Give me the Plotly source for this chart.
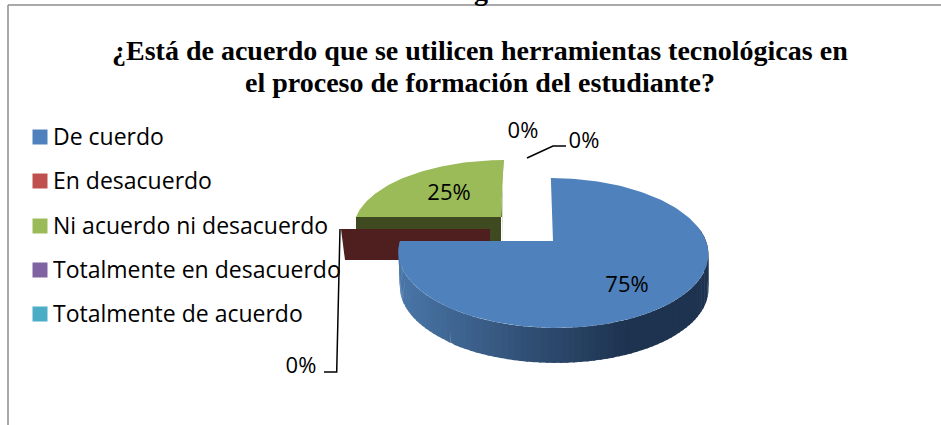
import numpy as np
import plotly.graph_objects as go

categories = ["De cuerdo", "En desacuerdo", "Ni acuerdo ni desacuerdo",
              "Totalmente en desacuerdo", "Totalmente de acuerdo"]
values = [75, 0, 25, 0, 0]
top_colors = ["#4f81bd", "#c0504d", "#9bbb59", "#8064a2", "#4bacc6"]
title_lines = ["¿Está de acuerdo que se utilicen herramientas tecnológicas en",
               "el proceso de formación del estudiante?"]
cut_off_heading = "g"

W, H = 941, 425
total = sum(values)
K = 0.16


def project(theta, rad, cx, cy, rx, ry, lean):
    X = rad * np.sin(theta)
    Y = rad * np.cos(theta)
    s = 1 / (1 + K * Y)
    return cx + rx * X * s + lean * Y * s, cy - ry * Y * s


def poly(xs, ys, color, width=0, lcolor=None):
    return go.Scatter(x=list(xs), y=list(ys), mode="lines", fill="toself",
                      fillcolor=color, hoverinfo="skip", showlegend=False,
                      line=dict(width=width, color=lcolor or color))


def mix(a, b, t):
    ca = [int(a[i:i + 2], 16) for i in (1, 3, 5)]
    cb = [int(b[i:i + 2], 16) for i in (1, 3, 5)]
    return "rgb(%d,%d,%d)" % tuple(round(p + (q - p) * t) for p, q in zip(ca, cb))


# slice angles come from the data
start = np.cumsum([0] + values[:-1]) / total * 2 * np.pi
end = np.cumsum(values) / total * 2 * np.pi
GEOM = {
    0: dict(cx=553, cy=241, rx=153, ry=73, lean=-2.5, depth=35),
    1: dict(cx=490, cy=229, rx=149, ry=60, lean=0, depth=31),
    2: dict(cx=501, cy=217, rx=145, ry=66, lean=3, depth=34),
}

fig = go.Figure()

# green slice (exploded backwards)
for idx, side in ((2, "#3f4a21"),):
    g = GEOM[idx]
    pa = dict(cx=g["cx"], cy=g["cy"], rx=g["rx"], ry=g["ry"], lean=g["lean"])
    th = np.linspace(start[idx], end[idx], 80)
    x, y = project(th, 1, **pa)
    lx, ly = project(start[idx], 1, **pa)
    fig.add_trace(poly([g["cx"], lx, lx, g["cx"]], [g["cy"], ly, ly + g["depth"], g["cy"] + g["depth"]], side))
    rx_, ry_ = project(end[idx], 1, **pa)
    fig.add_trace(poly([g["cx"], rx_, rx_ - 1, g["cx"] + 1, g["cx"] + 1], [g["cy"], ry_, ry_, g["cy"] + g["depth"], g["cy"]], "#5f7230"))
    fig.add_trace(poly(list(x) + [g["cx"], x[0]], list(y) + [g["cy"], y[0]], top_colors[idx]))

# zero-valued red slice: only its cut face is visible
g = GEOM[1]
pa = dict(cx=g["cx"], cy=g["cy"], rx=g["rx"], ry=g["ry"], lean=g["lean"])
lx, ly = project(start[1], 1, **pa)
fig.add_trace(poly([g["cx"], lx, lx + 4, g["cx"], g["cx"]],
                   [g["cy"], ly, ly + g["depth"], g["cy"] + g["depth"], g["cy"]], "#4e1f1e"))

# blue slice: extruded rim as shaded strips, then top face
g = GEOM[0]
pa = dict(cx=g["cx"], cy=g["cy"], rx=g["rx"], ry=g["ry"], lean=g["lean"])
sweep = np.linspace(np.radians(80), end[0], 90)
for i in range(len(sweep) - 1):
    xa, ya = project(sweep[i], 1, **pa)
    xb, yb = project(sweep[i + 1] + 0.012, 1, **pa)
    t2 = (xa - 400) / 308
    col = mix("#4a76a8", "#1e3350", min(1, t2 * 1.35))
    fig.add_trace(poly([xa, xb, xb + 1.5 * (xb < 450), xa + 1.5 * (xa < 450)],
                       [ya, yb, yb + g["depth"], ya + g["depth"]], col))
th = np.linspace(start[0], end[0], 180)
x, y = project(th, 1, **pa)
fig.add_trace(poly(list(x) + [g["cx"], x[0]], list(y) + [g["cy"], y[0]], top_colors[0]))

# leader lines
for lx_, ly_ in (([527, 553, 566], [158, 146, 146]), ([340, 336.7, 324], [229, 372, 372])):
    fig.add_trace(go.Scatter(x=lx_, y=ly_, mode="lines", hoverinfo="skip", showlegend=False,
                             line=dict(color="#000000", width=1.5)))

# data labels
label_x = [627, 301, 449, 523, 584]
label_y = [286, 367, 194, 132, 142]
fig.add_trace(go.Scatter(x=label_x, y=label_y, mode="text", showlegend=False, hoverinfo="skip",
                         text=[f"{v}%" for v in values],
                         textfont=dict(family="Open Sans", size=22, color="#000000")))

# legend
legend_y = [139, 183, 228, 272, 316]
marker_y = [137, 181, 226, 270, 314]
fig.add_trace(go.Scatter(x=[40] * 5, y=marker_y, mode="markers", showlegend=False, hoverinfo="skip",
                         marker=dict(symbol="square", size=15, color=top_colors, line=dict(width=0))))
fig.add_trace(go.Scatter(x=[53] * 5, y=legend_y, mode="text", showlegend=False, hoverinfo="skip",
                         text=categories, textposition="middle right",
                         textfont=dict(family="Open Sans", size=23, color="#000000")))

# frame
fig.add_shape(type="line", x0=8, x1=8, y0=5, y1=H, line=dict(color="#8c8c8c", width=1.5))
fig.add_shape(type="line", x0=8, x1=W, y0=5, y1=5, line=dict(color="#8c8c8c", width=1.5))

# title, one annotation per line to hold the tight line spacing
for line, yc in zip(title_lines, (50, 82)):
    fig.add_annotation(x=480, y=yc, text="<b>" + line + "</b>", showarrow=False,
                       xanchor="center", yanchor="middle", align="center",
                       font=dict(family="Liberation Serif", size=28, color="#000000"))
fig.add_annotation(x=481, y=0, text="<b>" + cut_off_heading + "</b>", showarrow=False,
                   xanchor="center", yanchor="bottom", yshift=-7, borderpad=0,
                   font=dict(family="Liberation Serif", size=28, color="#000000"))

fig.update_layout(width=W, height=H, margin=dict(l=0, r=0, t=0, b=0),
                  paper_bgcolor="#ffffff", plot_bgcolor="#ffffff", showlegend=False,
                  xaxis=dict(range=[0, W], visible=False, fixedrange=True),
                  yaxis=dict(range=[H, 0], visible=False, fixedrange=True))
fig.write_html("out.html", config=dict(displayModeBar=False),
               post_script="document.body.style.margin='0';document.body.style.overflow='hidden';")
